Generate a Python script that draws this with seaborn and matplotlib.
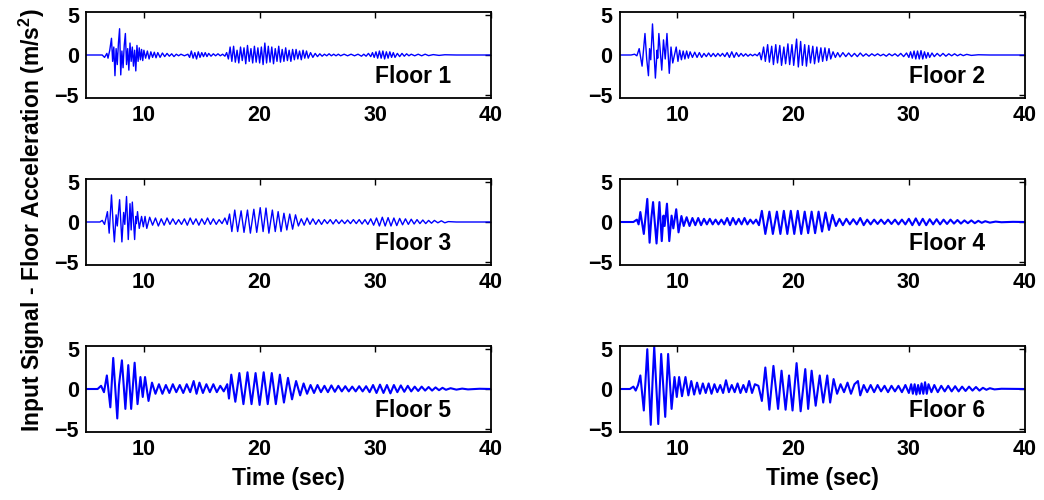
import matplotlib
matplotlib.use("Agg")
import matplotlib.pyplot as plt
import seaborn as sns

# peak / trough readings (time in s, acceleration in m/s^2) for each floor
floor1_t = [5.0, 6.4, 6.6, 6.8, 6.9, 7.05, 7.2, 7.3, 7.4, 7.5, 7.6, 7.7, 7.8, 7.9, 8.0, 8.1, 8.2, 8.3, 8.4, 8.5,
            8.6, 8.7, 8.8, 8.9, 9.0, 9.1, 9.2, 9.3, 9.4, 9.5, 9.6, 9.7, 9.8, 9.9, 10.0, 10.15, 10.3, 10.45, 10.6,
            10.75, 10.9, 11.05, 11.2, 11.4, 11.6, 11.8, 12.0, 12.2, 12.4, 12.6, 12.8, 13.0, 13.2, 13.5, 13.8,
            13.95, 14.1, 14.25, 14.4, 14.55, 14.7, 14.85, 15.0, 15.15, 15.3, 15.45, 15.6, 15.8, 16.0, 16.2, 16.4,
            16.6, 16.8, 17.0, 17.15, 17.3, 17.45, 17.6, 17.75, 17.9, 18.05, 18.2, 18.35, 18.5, 18.65, 18.8, 18.95,
            19.1, 19.25, 19.4, 19.55, 19.7, 19.85, 20.0, 20.15, 20.3, 20.45, 20.6, 20.75, 20.9, 21.05, 21.2,
            21.35, 21.5, 21.65, 21.8, 21.95, 22.1, 22.25, 22.4, 22.55, 22.7, 22.85, 23.0, 23.15, 23.3, 23.45,
            23.6, 23.75, 23.9, 24.05, 24.2, 24.4, 24.6, 24.8, 25.0, 25.2, 25.4, 25.6, 25.8, 26.0, 26.2, 26.4,
            26.6, 26.8, 27.0, 27.3, 27.6, 27.9, 28.2, 28.5, 28.8, 29.0, 29.2, 29.4, 29.6, 29.75, 29.9, 30.05,
            30.2, 30.35, 30.5, 30.65, 30.8, 30.95, 31.1, 31.25, 31.4, 31.55, 31.7, 31.9, 32.1, 32.3, 32.5, 32.7,
            32.9, 33.1, 33.4, 33.7, 34.0, 34.3, 34.6, 35.0, 35.5, 36.0, 37.0, 40.0]
floor1_acc = [0, 0, -0.3, 0.2, -0.4, 0.6, 2.1, -0.8, 1.0, -2.6, 0.8, -1.2, 1.5, 3.3, -2.5, 0.5, -1.6, 1.2, 2.7, -1.2,
              0.8, -1.9, 1.5, -0.8, 1.0, -1.4, 0.6, -2.0, 1.2, -0.8, 0.9, -0.6, 0.7, -0.7, 0.6, -0.4, 0.5, -0.5, 0.4,
              -0.3, 0.35, -0.35, 0.3, -0.3, 0.25, -0.2, 0.2, -0.15, 0.15, -0.2, 0.1, -0.1, 0.1, -0.1, 0.1,
              -0.3, 0.5, -0.4, 0.3, -0.5, 0.4, -0.3, 0.3, -0.2, 0.3, -0.2, 0.2, -0.15, 0.15, -0.1, 0.15,
              -0.1, 0.1, -0.15, 0.3, -0.5, 1.0, -0.8, 1.1, -0.9, 0.6, -1.0, 1.0, -0.7, 0.9, -1.1, 1.2,
              -0.8, 0.8, -1.0, 1.1, -0.9, 0.9, -1.0, 1.0, -1.2, 1.5, -1.0, 1.1, -0.9, 1.0, -1.1,
              0.8, -0.8, 1.1, -0.9, 0.7, -0.8, 0.9, -0.7, 0.6, -0.8, 0.7, -0.6, 0.7, -0.5, 0.5,
              -0.6, 0.6, -0.4, 0.5, -0.4, 0.3, -0.3, 0.2, -0.2, 0.15, -0.15, 0.1, -0.1, 0.15, -0.1, 0.1,
              -0.1, 0.1, -0.1, 0.1, -0.1, 0.1, -0.1, 0.1, -0.15, 0.1, -0.15, 0.2, -0.2, 0.3, -0.3, 0.4,
              -0.4, 0.5, -0.4, 0.5, -0.5, 0.4, -0.4, 0.4, -0.3, 0.3, -0.3, 0.2, -0.2, 0.2, -0.15, 0.15,
              -0.1, 0.1, -0.1, 0.1, -0.1, 0.1, -0.08, 0.05, -0.05, 0.03, 0, 0]

floor2_t = [5.0, 6.0, 6.3, 6.5, 6.7, 6.95, 7.2, 7.35, 7.5, 7.6, 7.7, 7.85, 8.1, 8.25, 8.3, 8.4, 8.65, 8.8, 8.95,
            9.1, 9.3, 9.45, 9.6, 9.9, 10.05, 10.2, 10.35, 10.5, 10.65, 10.8, 10.95, 11.1, 11.3, 11.5, 11.7, 11.9,
            12.1, 12.3, 12.5, 12.7, 12.9, 13.1, 13.3, 13.5, 13.7, 13.9, 14.1, 14.3, 14.5, 14.7, 14.9, 15.1, 15.3,
            15.5, 15.7, 15.9, 16.1, 16.3, 16.5, 16.7, 16.9, 17.1, 17.25, 17.45, 17.6, 17.8, 17.95, 18.15, 18.3,
            18.5, 18.65, 18.85, 19.0, 19.2, 19.35, 19.55, 19.7, 19.9, 20.05, 20.3, 20.45, 20.65, 20.8, 21.0,
            21.15, 21.35, 21.5, 21.7, 21.85, 22.05, 22.2, 22.4, 22.55, 22.75, 22.9, 23.1, 23.25, 23.45, 23.65,
            23.85, 24.05, 24.3, 24.55, 24.8, 25.05, 25.3, 25.55, 25.8, 26.05, 26.3, 26.55, 26.8, 27.05, 27.3,
            27.55, 27.8, 28.05, 28.3, 28.55, 28.8, 29.05, 29.3, 29.55, 29.8, 30.0, 30.15, 30.3, 30.45, 30.6,
            30.75, 30.9, 31.05, 31.2, 31.35, 31.5, 31.65, 31.8, 32.0, 32.2, 32.45, 32.7, 32.95, 33.2, 33.45,
            33.7, 33.95, 34.2, 34.45, 34.7, 35.0, 35.4, 36.0, 37.0, 40.0]
floor2_acc = [0, 0, 0.1, -0.1, 0.8, -1.4, 2.7, -0.5, -2.6, 0.8, -0.6, 3.9, -2.9, 0.6, -0.4, 2.7, -1.9, 1.9, -0.5,
              2.7, -2.3, 1.0, -1.0, 1.0, -0.8, 0.6, -0.6, 0.5, -0.5, 0.5, -0.4, 0.4, -0.3, 0.35, -0.3, 0.3,
              -0.3, 0.2, -0.2, 0.25, -0.2, 0.2, -0.2, 0.2, -0.15, 0.2, -0.2, 0.3, -0.3, 0.4, -0.3, 0.3, -0.2,
              0.2, -0.15, 0.15, -0.15, 0.1, -0.1, 0.1, -0.1, 0.3, -0.6, 1.0, -0.8, 1.3, -0.9, 1.1, -1.2,
              1.3, -1.0, 1.2, -1.3, 1.0, -1.1, 1.4, -1.2, 1.3, -1.3, 2.0, -1.5, 1.7, -1.3, 1.3,
              -1.4, 1.2, -1.0, 1.1, -1.1, 1.0, -0.9, 0.9, -0.8, 0.9, -0.7, 0.8, -0.5, 0.4, -0.3,
              0.3, -0.25, 0.3, -0.2, 0.25, -0.2, 0.2, -0.2, 0.25, -0.15, 0.15, -0.15, 0.15, -0.1, 0.15,
              -0.1, 0.1, -0.15, 0.15, -0.1, 0.15, -0.15, 0.2, -0.2, 0.25, -0.3, 0.4, -0.4, 0.5, -0.5,
              0.5, -0.5, 0.55, -0.5, 0.4, -0.4, 0.3, -0.3, 0.25, -0.2, 0.2, -0.15, 0.2, -0.15, 0.15,
              -0.1, 0.15, -0.1, 0.1, -0.08, 0.08, -0.05, 0.03, 0, 0]

floor3_t = [5.0, 6.2, 6.4, 6.6, 6.85, 7.0, 7.2, 7.35, 7.45, 7.6, 7.7, 7.9, 8.1, 8.25, 8.35, 8.5, 8.65, 8.8, 8.9,
            9.0, 9.2, 9.3, 9.35, 9.45, 9.6, 9.8, 9.95, 10.1, 10.25, 10.5, 10.75, 11.0, 11.25, 11.5, 11.75, 12.0,
            12.25, 12.5, 12.75, 13.0, 13.25, 13.5, 13.75, 14.0, 14.25, 14.5, 14.75, 15.0, 15.25, 15.5, 15.75,
            16.0, 16.25, 16.5, 16.75, 17.0, 17.2, 17.4, 17.6, 17.85, 18.1, 18.4, 18.65, 18.95, 19.2, 19.5,
            19.75, 20.05, 20.3, 20.55, 20.8, 21.1, 21.35, 21.6, 21.85, 22.1, 22.35, 22.6, 22.85, 23.1, 23.35,
            23.6, 23.85, 24.1, 24.35, 24.6, 24.85, 25.1, 25.35, 25.6, 25.85, 26.1, 26.35, 26.6, 26.85, 27.1,
            27.35, 27.6, 27.85, 28.1, 28.35, 28.6, 28.85, 29.1, 29.35, 29.6, 29.85, 30.1, 30.35, 30.6, 30.85,
            31.1, 31.35, 31.6, 31.85, 32.1, 32.35, 32.6, 32.85, 33.1, 33.35, 33.6, 33.85, 34.1, 34.35, 34.6,
            34.85, 35.1, 35.4, 35.7, 36.0, 36.3, 37.0, 40.0]
floor3_acc = [0, 0, 0.2, -0.3, 1.3, -1.4, 3.4, -0.5, -2.5, 0.9, -0.5, 2.8, -2.5, 1.2, -0.3, 3.2, -2.2, 2.3, -1.0,
              2.5, -2.2, 0.7, -0.2, 1.3, -0.8, 0.7, -0.6, 0.7, -0.8, 0.6, -0.4, 0.5, -0.5, 0.4, -0.4, 0.5,
              -0.3, 0.4, -0.3, 0.3, -0.3, 0.4, -0.4, 0.5, -0.3, 0.4, -0.4, 0.4, -0.3, 0.5, -0.3,
              0.4, -0.3, 0.3, -0.2, 0.5, -0.3, 1.0, -1.2, 1.5, -1.2, 1.4, -1.3, 1.5, -1.4, 1.6,
              -1.3, 1.8, -1.2, 1.75, -1.4, 1.5, -1.2, 1.3, -1.2, 1.1, -1.0, 1.0, -0.9, 0.9, -0.5,
              0.4, -0.4, 0.5, -0.3, 0.4, -0.3, 0.3, -0.3, 0.3, -0.2, 0.3, -0.25, 0.3, -0.2, 0.25,
              -0.2, 0.25, -0.2, 0.3, -0.2, 0.3, -0.25, 0.3, -0.3, 0.4, -0.4, 0.5, -0.5, 0.6, -0.5,
              0.55, -0.5, 0.5, -0.45, 0.45, -0.35, 0.4, -0.3, 0.35, -0.25, 0.3, -0.2, 0.25, -0.2, 0.2,
              -0.15, 0.2, -0.1, 0.15, -0.1, 0.05, 0, 0]

floor4_t = [5.0, 6.2, 6.5, 6.65, 6.8, 7.1, 7.4, 7.6, 7.75, 7.9, 8.2, 8.45, 8.65, 8.8, 8.9, 9.1, 9.3, 9.5, 9.65,
            9.9, 10.1, 10.35, 10.55, 10.8, 11.05, 11.3, 11.55, 11.8, 12.05, 12.3, 12.55, 12.8, 13.05, 13.3,
            13.55, 13.8, 14.05, 14.3, 14.55, 14.8, 15.05, 15.3, 15.55, 15.8, 16.05, 16.3, 16.55, 16.8, 17.05,
            17.3, 17.6, 17.95, 18.25, 18.6, 18.9, 19.2, 19.5, 19.8, 20.1, 20.4, 20.7, 21.0, 21.3, 21.6, 21.9,
            22.2, 22.5, 22.8, 23.1, 23.4, 23.7, 24.0, 24.3, 24.6, 24.9, 25.2, 25.5, 25.8, 26.1, 26.4, 26.7,
            27.0, 27.3, 27.6, 27.9, 28.2, 28.5, 28.8, 29.1, 29.4, 29.7, 30.0, 30.3, 30.6, 30.9, 31.2, 31.5,
            31.8, 32.1, 32.4, 32.7, 33.0, 33.3, 33.6, 33.9, 34.2, 34.5, 34.8, 35.1, 35.4, 35.7, 36.0, 36.3,
            36.6, 37.0, 37.5, 38.0, 39.0, 40.0]
floor4_acc = [0, 0, 0.3, -0.3, 1.25, -1.5, 2.9, -2.6, 0.5, 2.5, -2.7, 2.5, -2.4, 0.8, -0.5, 2.3, -2.4, 0.8, -0.8,
              1.6, -1.3, 0.75, -0.5, 0.6, -0.5, 0.5, -0.4, 0.5, -0.4, 0.4, -0.3, 0.4, -0.3, 0.3,
              -0.3, 0.3, -0.3, 0.5, -0.4, 0.5, -0.3, 0.4, -0.3, 0.5, -0.3, 0.3, -0.2, 0.3, -0.4,
              1.4, -1.5, 1.3, -1.5, 1.3, -1.5, 1.4, -1.5, 1.4, -1.5, 1.4, -1.5, 1.3, -1.4, 1.3, -1.4,
              1.3, -1.2, 1.2, -1.0, 0.9, -0.5, 0.4, -0.4, 0.4, -0.3, 0.35, -0.3, 0.5, -0.4, 0.3, -0.3,
              0.3, -0.25, 0.3, -0.25, 0.3, -0.25, 0.3, -0.3, 0.3, -0.3, 0.4, -0.4, 0.45, -0.4, 0.4, -0.4,
              0.35, -0.3, 0.35, -0.3, 0.3, -0.25, 0.3, -0.2, 0.25, -0.2, 0.2, -0.15, 0.2, -0.15, 0.15, -0.1,
              0.1, -0.08, 0.05, -0.03, 0.02, 0]

floor5_t = [5.0, 6.0, 6.3, 6.55, 6.8, 7.1, 7.35, 7.7, 7.85, 8.1, 8.4, 8.65, 8.9, 9.2, 9.45, 9.7, 9.9, 10.1, 10.4,
            10.7, 11.0, 11.3, 11.6, 11.9, 12.2, 12.5, 12.8, 13.1, 13.4, 13.7, 14.0, 14.3, 14.55, 14.8, 15.1,
            15.4, 15.7, 16.0, 16.3, 16.6, 16.9, 17.2, 17.35, 17.55, 17.9, 18.25, 18.6, 18.95, 19.3, 19.65, 20.0,
            20.35, 20.7, 21.05, 21.4, 21.75, 22.1, 22.45, 22.8, 23.15, 23.5, 23.8, 24.1, 24.4, 24.7, 25.0,
            25.3, 25.6, 25.9, 26.2, 26.5, 26.8, 27.1, 27.4, 27.7, 28.0, 28.3, 28.6, 28.9, 29.2, 29.5, 29.8,
            30.1, 30.4, 30.7, 31.0, 31.3, 31.6, 31.9, 32.2, 32.5, 32.8, 33.1, 33.4, 33.7, 34.0, 34.3, 34.6,
            34.9, 35.2, 35.5, 35.8, 36.1, 36.5, 37.0, 37.5, 38.0, 39.0, 40.0]
floor5_acc = [0, 0, 0.4, -0.4, 1.7, -2.3, 3.9, -3.7, 0.5, 3.6, -2.5, 3.0, -2.5, 3.3, -1.9, 1.5, -1.0, 1.5, -1.5,
              0.8, -0.6, 0.6, -0.6, 0.5, -0.5, 0.6, -0.4, 0.5, -0.5, 0.6, -0.4, 1.0, -0.6, 0.8, -0.5,
              0.6, -0.4, 0.6, -0.4, 0.4, -0.3, 0.6, -1.2, 1.8, -1.6, 2.0, -1.9, 2.1, -1.9, 2.0, -2.0,
              2.1, -1.9, 2.0, -1.9, 1.8, -1.7, 1.4, -1.3, 1.0, -0.8, 0.7, -0.6, 0.5, -0.5, 0.5,
              -0.4, 0.4, -0.4, 0.45, -0.35, 0.4, -0.3, 0.35, -0.3, 0.3, -0.3, 0.35, -0.3, 0.35, -0.4, 0.5,
              -0.5, 0.55, -0.5, 0.5, -0.55, 0.5, -0.4, 0.45, -0.35, 0.4, -0.3, 0.3, -0.25, 0.3, -0.2, 0.25,
              -0.2, 0.2, -0.15, 0.15, -0.1, 0.1, -0.08, 0.05, -0.05, 0.03, 0]

floor6_t = [5.0, 5.9, 6.2, 6.4, 6.6, 6.8, 7.1, 7.4, 7.7, 7.85, 8.0, 8.35, 8.6, 8.95, 9.2, 9.5, 9.75, 9.95, 10.15,
            10.4, 10.7, 10.95, 11.2, 11.45, 11.7, 11.95, 12.2, 12.45, 12.7, 12.95, 13.2, 13.45, 13.7, 13.95,
            14.2, 14.45, 14.7, 14.95, 15.2, 15.45, 15.7, 15.95, 16.2, 16.45, 16.7, 17.0, 17.3, 17.6, 17.95,
            18.3, 18.7, 19.0, 19.35, 19.65, 19.95, 20.3, 20.65, 21.05, 21.3, 21.6, 21.95, 22.3, 22.6, 22.95,
            23.2, 23.5, 23.8, 24.1, 24.4, 24.7, 25.0, 25.3, 25.6, 25.8, 26.1, 26.4, 26.7, 27.0, 27.3, 27.6,
            27.9, 28.2, 28.5, 28.8, 29.1, 29.4, 29.7, 30.0, 30.2, 30.35, 30.5, 30.65, 30.8, 30.95, 31.1, 31.25,
            31.4, 31.55, 31.7, 31.95, 32.2, 32.5, 32.8, 33.1, 33.4, 33.7, 34.0, 34.3, 34.6, 34.9, 35.2, 35.5,
            35.8, 36.1, 36.4, 36.7, 37.0, 37.4, 38.0, 40.0]
floor6_acc = [0, 0, 0.3, -0.2, 0.5, 1.7, -2.7, 5.0, -4.5, 0.8, 5.3, -4.4, 4.4, -3.5, 4.4, -2.5, 1.5, -1.0, 1.5,
              -0.9, 1.5, -0.8, 1.0, -0.7, 0.8, -0.6, 0.7, -0.5, 0.7, -0.6, 0.6, -0.4, 0.5, -0.5,
              1.1, -0.4, 0.5, -0.4, 0.7, -0.5, 0.5, -0.4, 1.0, -0.5, 0.6, 0.4, -1.5, 2.7, -2.6,
              2.9, -2.5, 2.3, -2.6, 1.7, -2.7, 3.25, -2.8, 2.5, -2.5, 2.3, -2.1, 1.7, -1.7, 1.7,
              -1.7, 1.25, -0.6, 0.6, -0.4, 0.8, -0.6, 0.6, 1.0, -0.8, 0.5, -0.4, 0.5, -0.4, 0.5, -0.3,
              0.4, -0.4, 0.4, -0.3, 0.4, -0.4, 0.5, -0.5, 0.6, -0.6, 0.6, -0.7, 0.5, -0.6, 0.7, -0.6,
              0.85, -0.6, 0.6, -0.4, 0.5, -0.4, 0.4, -0.3, 0.4, -0.3, 0.35, -0.3, 0.3, -0.25, 0.3, -0.2,
              0.25, -0.2, 0.15, -0.1, 0.1, -0.05, 0.03, 0]

floor_names = ["Floor 1", "Floor 2", "Floor 3", "Floor 4", "Floor 5", "Floor 6"]
floor_times = [floor1_t, floor2_t, floor3_t, floor4_t, floor5_t, floor6_t]
floor_accs = [floor1_acc, floor2_acc, floor3_acc, floor4_acc, floor5_acc, floor6_acc]
x_ticks = [10, 20, 30, 40]
y_ticks = [-5, 0, 5]

sns.set_style("white")
plt.rcParams["font.family"] = ["Liberation Sans", "DejaVu Sans"]
plt.rcParams["font.weight"] = "bold"
plt.rcParams["text.color"] = "black"
plt.rcParams["axes.labelcolor"] = "black"
plt.rcParams["xtick.color"] = "black"
plt.rcParams["ytick.color"] = "black"
plt.rcParams["mathtext.fontset"] = "custom"
plt.rcParams["mathtext.rm"] = "Liberation Sans:bold"
plt.rcParams["mathtext.bf"] = "Liberation Sans:bold"

fig = plt.figure(figsize=(10.44, 5.0), dpi=100)

col_left = [0.0824, 0.5934]
row_bottom = [0.804, 0.470, 0.136]
ax_w, ax_h = 0.388, 0.172

for i, name in enumerate(floor_names):
    row, col = i // 2, i % 2
    ax = fig.add_axes([col_left[col], row_bottom[row], ax_w, ax_h])
    lw = 1.0 if i < 3 else 1.5
    sns.lineplot(x=floor_times[i], y=floor_accs[i], ax=ax, color="#0000ff", lw=lw,
                 estimator=None, sort=False)
    ax.set_xlim(5, 40)
    ax.set_ylim(-5.4, 5.4)
    ax.set_xticks(x_ticks)
    ax.set_yticks(y_ticks)
    ax.tick_params(direction="in", top=True, right=True, length=4, width=1,
                   labelsize=15.5, pad=5, colors="black")
    for lab in ax.get_xticklabels() + ax.get_yticklabels():
        lab.set_fontweight("bold")
    for sp in ax.spines.values():
        sp.set_visible(True)
        sp.set_color("black")
        sp.set_linewidth(1.3)
    ax.text(30.0, -2.7, name, fontsize=16.5, fontweight="bold", ha="left", va="center")
    ax.set_xlabel("")
    ax.set_ylabel("")
    if row == 2:
        ax.set_xlabel("Time (sec)", fontsize=16.5, fontweight="bold", labelpad=5)

fig.text(0.031, 1 - 220 / 500, "Input Signal - Floor Acceleration (m/s$^{2}$)", rotation=90,
         ha="center", va="center", fontsize=16.5, fontweight="bold")

fig.savefig("out.png", dpi=100)
